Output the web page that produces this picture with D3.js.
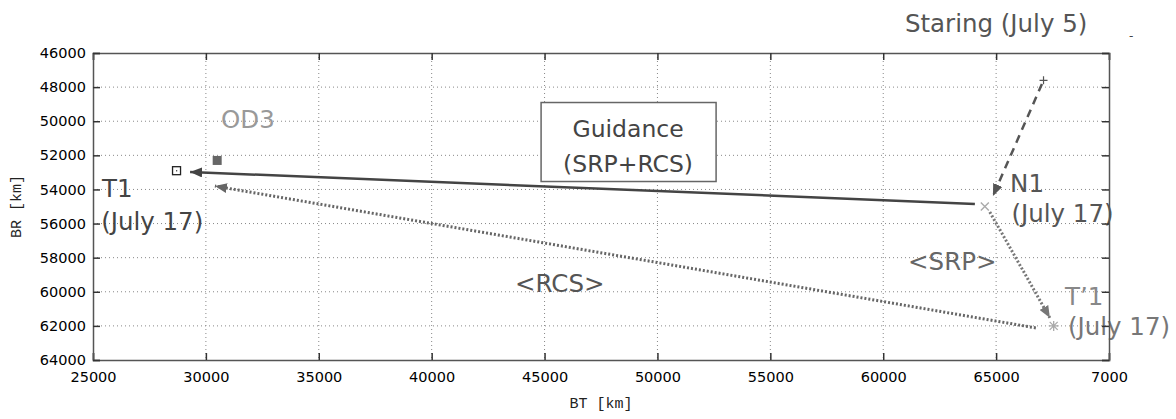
<!DOCTYPE html>
<html>
<head>
<meta charset="utf-8">
<script src="https://cdn.jsdelivr.net/npm/d3@7"></script>
<style>
  html, body { margin: 0; padding: 0; background: #fff; }
  svg { display: block; }
</style>
</head>
<body>
<div id="chart"></div>
<script>
// axis ticks
const btTicks = [25000, 30000, 35000, 40000, 45000, 50000, 55000, 60000, 65000, 70000];
const btTickLabels = ["25000", "30000", "35000", "40000", "45000", "50000", "55000", "60000", "65000", "7000"];
const brTicks = [46000, 48000, 50000, 52000, 54000, 56000, 58000, 60000, 62000, 64000];

// trajectory points [BT, BR]
const pointNames = ["T1", "OD3", "Staring", "N1", "T'1"];
const pointBT = [28700, 30500, 67100, 64500, 67550];
const pointBR = [52900, 52300, 47600, 55000, 62000];

// arrows: start and tip [BT, BR]
const arrowNames = ["staring", "guidance", "srp", "rcs"];
const arrowFromBT = [67030, 64060, 64720, 66760];
const arrowFromBR = [47820, 54850, 55320, 62120];
const arrowToBT = [64860, 29300, 67380, 30400];
const arrowToBR = [54380, 52975, 61530, 53800];

// annotation text
const labelText = ["Staring (July 5)", "OD3", "T1", "(July 17)", "N1", "(July 17)", "<SRP>", "<RCS>", "T\u20191", "(July 17)"];
const labelBT = [60960, 30670, 25400, 25360, 65620, 65680, 61100, 43690, 68050, 68180];
const labelBR = [44770, 50400, 54440, 56380, 54150, 55900, 58720, 60010, 60780, 62540];
const guidanceLines = ["Guidance", "(SRP+RCS)"];
const guidanceBT = 48700, guidanceBR = 51190;

const W = 1176, H = 419;
const margin = {top: 53, right: 67, bottom: 59, left: 93};
const innerW = W - margin.left - margin.right;
const innerH = H - margin.top - margin.bottom;

const x = d3.scaleLinear().domain([25000, 70000]).range([margin.left, margin.left + innerW]);
const y = d3.scaleLinear().domain([46000, 64000]).range([margin.top, margin.top + innerH]);

const svg = d3.select("#chart").append("svg")
    .attr("width", W).attr("height", H)
    .attr("viewBox", `0 0 ${W} ${H}`);

// arrowhead markers
const defs = svg.append("defs");
const markerColours = {staring: "#555", guidance: "#444", srp: "#777", rcs: "#666"};
Object.entries(markerColours).forEach(([k, c]) => {
    defs.append("marker")
        .attr("id", "head-" + k)
        .attr("viewBox", "0 0 12 10")
        .attr("refX", 12).attr("refY", 5)
        .attr("markerWidth", 12).attr("markerHeight", 10)
        .attr("markerUnits", "userSpaceOnUse")
        .attr("orient", "auto")
        .append("path")
        .attr("d", "M0,0 L12,5 L0,10 Z")
        .attr("fill", c);
});

// grid
const grid = svg.append("g");
grid.selectAll(".vg").data(btTicks.slice(1, -1)).join("line")
    .attr("x1", d => x(d)).attr("x2", d => x(d))
    .attr("y1", margin.top).attr("y2", margin.top + innerH)
    .attr("stroke", "#888").attr("stroke-width", 1).attr("stroke-dasharray", "1,3");
grid.selectAll(".hg").data(brTicks.slice(1, -1)).join("line")
    .attr("x1", margin.left).attr("x2", margin.left + innerW)
    .attr("y1", d => y(d)).attr("y2", d => y(d))
    .attr("stroke", "#888").attr("stroke-width", 1).attr("stroke-dasharray", "1,3");

// arrows
const lineStyles = {
    staring: {w: 2.5, dash: "8,6"},
    guidance: {w: 2.5, dash: null},
    srp: {w: 3, dash: "2,2"},
    rcs: {w: 3, dash: "2,2"}
};
arrowNames.forEach((n, i) => {
    svg.append("line")
        .attr("x1", x(arrowFromBT[i])).attr("y1", y(arrowFromBR[i]))
        .attr("x2", x(arrowToBT[i])).attr("y2", y(arrowToBR[i]))
        .attr("stroke", markerColours[n])
        .attr("stroke-width", lineStyles[n].w)
        .attr("stroke-dasharray", lineStyles[n].dash)
        .attr("marker-end", `url(#head-${n})`);
});

// point markers
const pts = pointNames.map((n, i) => ({name: n, bt: pointBT[i], br: pointBR[i]}));
pts.forEach(p => {
    const px = x(p.bt), py = y(p.br);
    const g = svg.append("g").attr("transform", `translate(${px},${py})`);
    if (p.name === "T1") {
        g.append("rect").attr("x", -4).attr("y", -4).attr("width", 8).attr("height", 8)
            .attr("fill", "none").attr("stroke", "#222").attr("stroke-width", 1.3);
        g.append("rect").attr("x", -0.5).attr("y", -0.5).attr("width", 1.2).attr("height", 1.2).attr("fill", "#222");
    } else if (p.name === "OD3") {
        g.append("rect").attr("x", -4.5).attr("y", -4.5).attr("width", 9).attr("height", 9).attr("fill", "#666");
    } else if (p.name === "Staring") {
        g.append("path").attr("d", "M-4,0H4M0,-4V4").attr("stroke", "#555").attr("stroke-width", 1.2);
    } else if (p.name === "N1") {
        g.append("path").attr("d", "M-4,-4L4,4M-4,4L4,-4").attr("stroke", "#aaa").attr("stroke-width", 1.4);
    } else {
        g.append("path").attr("d", "M-5,0H5M0,-5V5M-4,-4L4,4M-4,4L4,-4").attr("stroke", "#aaa").attr("stroke-width", 1.3);
    }
});

// annotations
const labelColours = ["#555", "#999", "#444", "#444", "#555", "#555", "#666", "#555", "#888", "#777"];
labelText.forEach((t, i) => {
    svg.append("text")
        .attr("x", x(labelBT[i])).attr("y", y(labelBR[i]))
        .style("font-family", "'DejaVu Sans', sans-serif")
        .style("font-size", "24.5px")
        .attr("fill", labelColours[i])
        .text(t);
});

// guidance box
const gx = x(guidanceBT), gy = y(guidanceBR);
svg.append("rect")
    .attr("x", gx - 87).attr("y", gy - 39).attr("width", 175).attr("height", 79)
    .attr("fill", "#fff").attr("stroke", "#666").attr("stroke-width", 1.5);
guidanceLines.forEach((t, i) => {
    svg.append("text")
        .attr("x", gx).attr("y", gy - 5 + i * 35)
        .attr("text-anchor", "middle")
        .style("font-family", "'DejaVu Sans', sans-serif")
        .style("font-size", "23.5px")
        .attr("fill", "#444")
        .text(t);
});

// axes
const tickLen = 7;
const axBottom = svg.append("g").attr("transform", `translate(0,${margin.top + innerH})`)
    .call(d3.axisBottom(x).tickValues(btTicks).tickSize(-tickLen).tickPadding(12)
        .tickFormat((d, i) => btTickLabels[i]));
const axTop = svg.append("g").attr("transform", `translate(0,${margin.top})`)
    .call(d3.axisTop(x).tickValues(btTicks).tickSize(-tickLen).tickFormat(""));
const axLeft = svg.append("g").attr("transform", `translate(${margin.left},0)`)
    .call(d3.axisLeft(y).tickValues(brTicks).tickSize(-tickLen).tickPadding(7)
        .tickFormat(d3.format("d")));
const axRight = svg.append("g").attr("transform", `translate(${margin.left + innerW},0)`)
    .call(d3.axisRight(y).tickValues(brTicks).tickSize(-tickLen).tickFormat(""));

[axBottom, axTop, axLeft, axRight].forEach(a => {
    a.select(".domain").attr("stroke", "#555").attr("stroke-width", 1.5);
    a.selectAll(".tick line").attr("stroke", "#333").attr("stroke-width", 1.5);
    a.selectAll("text")
        .style("font-family", "'DejaVu Sans', sans-serif")
        .style("font-size", "14.5px")
        .attr("fill", "#000");
});

// axis titles
svg.append("text")
    .attr("x", margin.left + innerW / 2).attr("y", 408)
    .attr("text-anchor", "middle")
    .style("font-family", "'Liberation Mono', monospace")
    .style("font-size", "15px").attr("fill", "#222")
    .text("BT [km]");
svg.append("text")
    .attr("transform", `translate(21,${margin.top + innerH / 2}) rotate(-90)`)
    .attr("text-anchor", "middle")
    .style("font-family", "'Liberation Mono', monospace")
    .style("font-size", "15px").attr("fill", "#222")
    .text("BR [km]");

svg.append("text")
    .attr("x", 1129).attr("y", 40)
    .style("font-family", "'DejaVu Sans', sans-serif")
    .style("font-size", "12px").attr("fill", "#444")
    .text("-");
</script>
</body>
</html>
